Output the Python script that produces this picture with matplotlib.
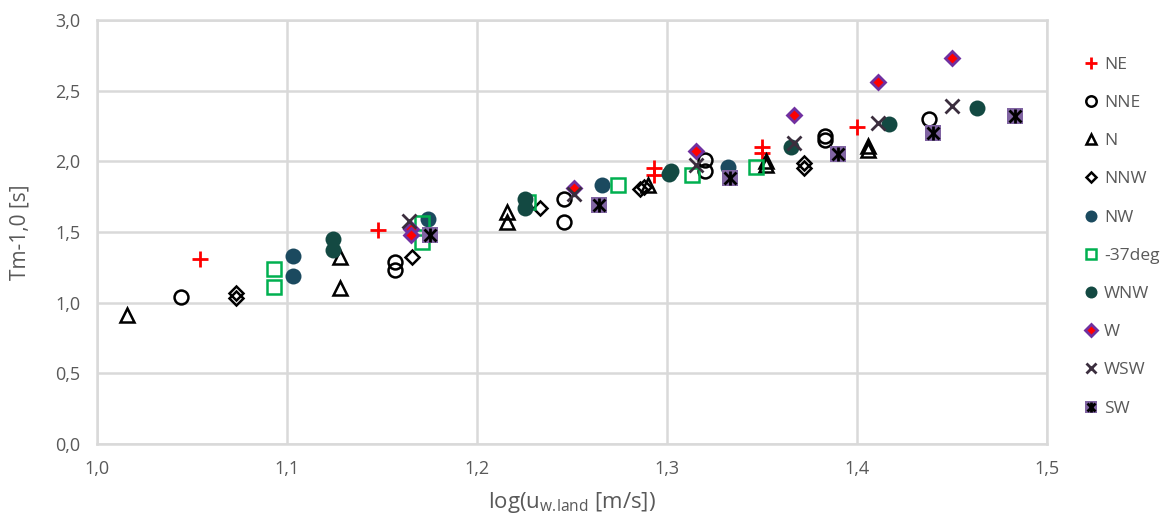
import numpy as np
import matplotlib
matplotlib.use("Agg")
import matplotlib.pyplot as plt
from matplotlib.ticker import FuncFormatter, MultipleLocator

# data (x = log(u_w,land), y = Tm-1,0)
ne_x = [1.054, 1.148, 1.293, 1.293, 1.350, 1.350, 1.400]
ne_y = [1.31, 1.51, 1.95, 1.90, 2.10, 2.06, 2.24]

nne_x = [1.044, 1.157, 1.157, 1.246, 1.246, 1.320, 1.320, 1.383, 1.383, 1.438]
nne_y = [1.04, 1.29, 1.23, 1.73, 1.57, 2.01, 1.93, 2.18, 2.15, 2.30]

n_x = [1.016, 1.128, 1.128, 1.216, 1.216, 1.290, 1.352, 1.352, 1.406, 1.406]
n_y = [0.91, 1.32, 1.10, 1.64, 1.57, 1.83, 2.00, 1.97, 2.11, 2.08]

nnw_x = [1.073, 1.073, 1.166, 1.233, 1.286, 1.288, 1.372, 1.372]
nnw_y = [1.07, 1.03, 1.32, 1.67, 1.80, 1.82, 1.99, 1.95]

nw_x = [1.103, 1.103, 1.174, 1.266, 1.332]
nw_y = [1.33, 1.19, 1.59, 1.83, 1.96]

deg37_x = [1.093, 1.093, 1.171, 1.171, 1.227, 1.274, 1.313, 1.347]
deg37_y = [1.24, 1.11, 1.56, 1.43, 1.71, 1.83, 1.90, 1.96]

wnw_x = [1.124, 1.124, 1.225, 1.225, 1.301, 1.302, 1.365, 1.417, 1.463]
wnw_y = [1.45, 1.37, 1.73, 1.67, 1.91, 1.93, 2.10, 2.26, 2.38]

w_x = [1.165, 1.165, 1.251, 1.315, 1.367, 1.411, 1.450]
w_y = [1.52, 1.48, 1.81, 2.07, 2.33, 2.56, 2.73]

wsw_x = [1.164, 1.251, 1.315, 1.367, 1.411, 1.450]
wsw_y = [1.58, 1.77, 1.97, 2.13, 2.27, 2.39]

sw_x = [1.175, 1.264, 1.333, 1.390, 1.440, 1.483]
sw_y = [1.48, 1.69, 1.88, 2.05, 2.20, 2.32]

grey = '#595959'
gridc = '#d9d9d9'
plt.rcParams['font.family'] = ['Open Sans', 'DejaVu Sans']

fig = plt.figure(figsize=(11.69, 5.24), dpi=100)
ax = fig.add_axes([0.083, 0.153, 0.8127, 0.809])

handles = []
labels = []

h = ax.plot(ne_x, ne_y, ls='none', marker='+', ms=11, mew=2, color='#ff0000')[0]
handles.append(h); labels.append('NE')
h = ax.plot(nne_x, nne_y, ls='none', marker='o', ms=10, mew=1.8, mfc='none', mec='black')[0]
handles.append(h); labels.append('NNE')
h = ax.plot(n_x, n_y, ls='none', marker='^', ms=10, mew=1.8, mfc='none', mec='black')[0]
handles.append(h); labels.append('N')
h = ax.plot(nnw_x, nnw_y, ls='none', marker='D', ms=7, mew=1.8, mfc='none', mec='black')[0]
handles.append(h); labels.append('NNW')
h = ax.plot(nw_x, nw_y, ls='none', marker='o', ms=11.5, mew=0, color='#1b4a5f')[0]
handles.append(h); labels.append('NW')
h = ax.plot(deg37_x, deg37_y, ls='none', marker='s', ms=10, mew=1.8, mfc='none', mec='#00b050')[0]
handles.append(h); labels.append('-37deg')
h = ax.plot(wnw_x, wnw_y, ls='none', marker='o', ms=11.5, mew=0, color='#134942')[0]
handles.append(h); labels.append('WNW')
h = ax.plot(w_x, w_y, ls='none', marker='D', ms=7.5, mew=2, mfc='#ff0000', mec='#7030a0')[0]
handles.append(h); labels.append('W')
h = ax.plot(wsw_x, wsw_y, ls='none', marker='x', ms=10, mew=2, color='#3b2e3e')[0]
handles.append(h); labels.append('WSW')
h1 = ax.plot(sw_x, sw_y, ls='none', marker='s', ms=11, mew=0, color='#8064a2')[0]
h2 = ax.plot(sw_x, sw_y, ls='none', marker='x', ms=8, mew=2, color='black')[0]
h3 = ax.plot(sw_x, sw_y, ls='none', marker='|', ms=10, mew=2, color='black')[0]
handles.append((h1, h2, h3)); labels.append('SW')

ax.set_xlim(1.0, 1.5)
ax.set_ylim(0.0, 3.0)
ax.xaxis.set_major_locator(MultipleLocator(0.1))
ax.yaxis.set_major_locator(MultipleLocator(0.5))
comma = FuncFormatter(lambda v, p: ('%.1f' % v).replace('.', ','))
ax.xaxis.set_major_formatter(comma)
ax.yaxis.set_major_formatter(comma)
ax.tick_params(length=0, labelsize=13, colors=grey, pad=12)
ax.grid(True, color=gridc, lw=1.8)
ax.set_axisbelow(True)
for s in ax.spines.values():
    s.set_color(gridc)
    s.set_linewidth(1.8)

ax.set_xlabel(r'log(u$_{\mathregular{w.\!land}}$ [m/s])', fontsize=16, color=grey, labelpad=8)
ax.set_ylabel('Tm-1,0 [s]', fontsize=15, color=grey, labelpad=18)

leg = fig.legend(handles, labels, loc='upper left', bbox_to_anchor=(0.922, 0.905),
                 frameon=False, fontsize=12.5, labelspacing=1.27, handlelength=0.7,
                 handletextpad=0.4, markerscale=0.75, borderaxespad=0)
for t in leg.get_texts():
    t.set_color(grey)

fig.savefig('out.png', dpi=100)
